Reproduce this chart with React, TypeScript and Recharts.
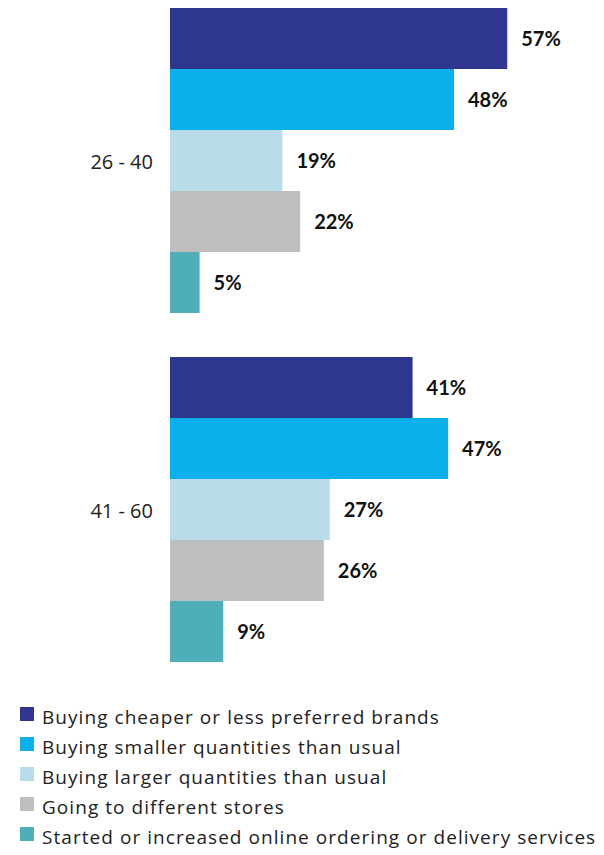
import React from 'react';
import { BarChart, Bar, XAxis, YAxis, LabelList } from 'recharts';

const ageGroups = ['26 - 40', '41 - 60'];
const seriesNames = [
  'Buying cheaper or less preferred brands',
  'Buying smaller quantities than usual',
  'Buying larger quantities than usual',
  'Going to different stores',
  'Started or increased online ordering or delivery services',
];
const seriesKeys = ['cheaper', 'smaller', 'larger', 'stores', 'online'];
const seriesColors = ['#2E3690', '#0AB0EC', '#B8DDE8', '#BEBEBE', '#4EAFB8'];
const cheaper = [57, 41];
const smaller = [48, 47];
const larger = [19, 27];
const stores = [22, 26];
const online = [5, 9];

const seriesValues = [cheaper, smaller, larger, stores, online];
const data = ageGroups.map((age, i) => {
  const row: Record<string, string | number> = { age };
  seriesKeys.forEach((k, s) => (row[k] = seriesValues[s][i]));
  return row;
});

export default function App() {
  return (
    <div style={{ position: 'absolute', left: 0, top: 0, width: 604, height: 855, background: '#fff', overflow: 'hidden' }}>
      <div style={{ position: 'absolute', left: 0, top: -13 }}>
        <BarChart
          width={604}
          height={698}
          data={data}
          layout="vertical"
          margin={{ top: 0, right: 79, bottom: 0, left: 0 }}
          barCategoryGap={21}
          barGap={0}
        >
          <XAxis type="number" domain={[0, 60]} hide />
          <YAxis
            type="category"
            dataKey="age"
            width={170}
            axisLine={false}
            tickLine={false}
            tickMargin={11}
            tick={{ fill: '#222', fontSize: 20, fontFamily: 'Open Sans' }}
          />
          {seriesKeys.map((k, s) => (
            <Bar key={k} dataKey={k} fill={seriesColors[s]} isAnimationActive={false}>
              <LabelList
                dataKey={k}
                position="right"
                offset={14}
                formatter={(v: number) => `${v}%`}
                style={{ fill: '#111', fontSize: 20, fontWeight: 700, fontFamily: 'Lato' }}
              />
            </Bar>
          ))}
        </BarChart>
      </div>
      <div style={{ position: 'absolute', left: 20, top: 702, fontFamily: 'Open Sans', fontSize: 19, color: '#222' }}>
        {seriesNames.map((name, s) => (
          <div key={name} style={{ display: 'flex', alignItems: 'center', height: 30, letterSpacing: 1.05, whiteSpace: 'nowrap' }}>
            <span style={{ flex: 'none', width: 14, height: 14, background: seriesColors[s], marginRight: 8, marginTop: -6 }} />
            {name}
          </div>
        ))}
      </div>
    </div>
  );
}
